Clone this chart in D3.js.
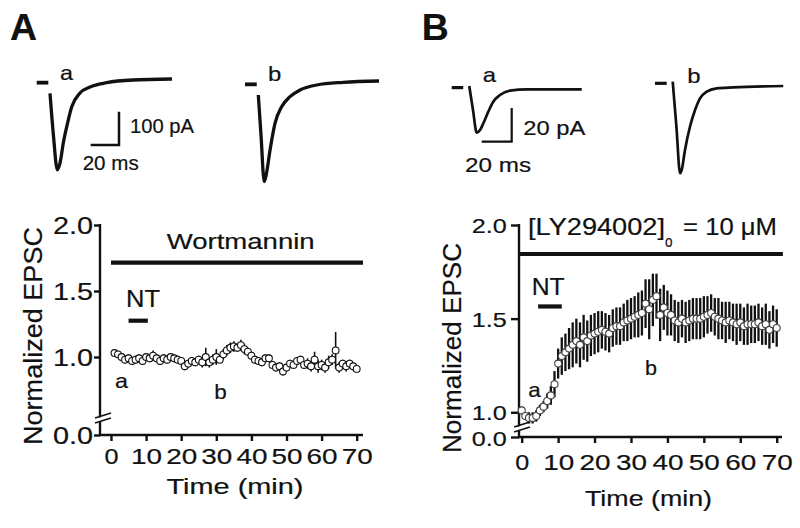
<!DOCTYPE html>
<html><head><meta charset="utf-8">
<script src="https://cdn.jsdelivr.net/npm/d3@7"></script>
<style>
body{margin:0;background:#fff}
svg{display:block}
text{font-family:"Liberation Sans",Arial,Helvetica,sans-serif;fill:#111;stroke:#111;stroke-width:0.2px}
</style>
</head><body>
<svg id="c" width="800" height="528"></svg>
<script>
// ---------------- DATA ----------------
const xTicks = [0, 10, 20, 30, 40, 50, 60, 70];
const yTicks = [0, 1, 1.5, 2];
const yTickLabels = ["0.0", "1.0", "1.5", "2.0"];

// Panel A: wortmannin time course (min, normalized EPSC, SEM)
const timeA = d3.range(1, 71);
const valuesA = [1.03,1.02,1.00,0.98,0.99,0.97,0.98,0.99,0.97,1.00,
                 0.99,1.01,0.99,0.97,0.99,0.98,1.00,0.99,0.98,0.97,
                 0.93,0.95,0.97,0.96,0.98,0.96,1.00,0.96,0.98,1.00,
                 0.98,1.02,1.05,1.07,1.08,1.07,1.09,1.06,1.04,1.01,
                 0.98,0.97,0.96,0.99,0.99,0.94,0.92,0.93,0.89,0.92,
                 0.95,0.94,0.97,0.98,0.94,0.95,0.93,0.98,0.93,0.94,
                 0.92,0.96,0.98,1.05,0.92,0.95,0.93,0.95,0.93,0.91];
const errorsA = [0.02,0.02,0.03,0.03,0.03,0.03,0.03,0.03,0.03,0.03,
                 0.03,0.04,0.03,0.03,0.03,0.03,0.03,0.03,0.03,0.03,
                 0.03,0.03,0.03,0.03,0.03,0.04,0.07,0.04,0.04,0.06,
                 0.03,0.04,0.04,0.04,0.04,0.03,0.04,0.04,0.03,0.03,
                 0.03,0.03,0.03,0.03,0.03,0.03,0.03,0.03,0.03,0.03,
                 0.03,0.03,0.03,0.03,0.03,0.04,0.04,0.06,0.05,0.04,
                 0.04,0.05,0.04,0.14,0.04,0.03,0.04,0.03,0.03,0.02];
const drugPeriodA = [0, 71.8];
const ntPeriodA = [5, 10.5];

// Panel B: LY294002 time course
const timeB = d3.range(0, 71);
const valuesB = [1.01,0.98,0.97,0.97,0.98,1.01,1.03,1.06,1.09,1.15,
                 1.26,1.30,1.32,1.34,1.36,1.38,1.36,1.40,1.38,1.41,
                 1.42,1.43,1.44,1.43,1.42,1.45,1.46,1.46,1.48,1.49,
                 1.50,1.51,1.52,1.53,1.58,1.55,1.60,1.62,1.52,1.56,
                 1.53,1.52,1.49,1.48,1.50,1.48,1.49,1.50,1.50,1.50,
                 1.51,1.52,1.53,1.51,1.50,1.49,1.48,1.49,1.48,1.47,
                 1.48,1.46,1.47,1.47,1.47,1.48,1.46,1.47,1.44,1.47,1.45];
const errorsB = [0.02,0.02,0.03,0.03,0.03,0.03,0.03,0.04,0.05,0.07,
                 0.08,0.10,0.10,0.11,0.12,0.12,0.12,0.12,0.11,0.11,
                 0.11,0.11,0.10,0.10,0.10,0.10,0.10,0.10,0.10,0.11,
                 0.11,0.11,0.12,0.12,0.13,0.16,0.14,0.12,0.14,0.12,
                 0.12,0.11,0.11,0.11,0.10,0.11,0.11,0.11,0.11,0.11,
                 0.11,0.10,0.10,0.10,0.11,0.10,0.11,0.10,0.10,0.11,
                 0.10,0.10,0.11,0.10,0.10,0.10,0.10,0.11,0.10,0.10,0.10];
const drugPeriodB = [-0.7, 71.7];
const ntPeriodB = [4.5, 11];

// EPSC traces (ms, pA)
const traceAa_t = [9.4, 11.7, 14.6, 16.5, 18.8, 21.2, 24.7, 30.6, 37.7, 49.5, 68.1, 95.6];
const traceAa_i = [-43, -163, -273, -252, -192, -144, -84, -42, -24, -11, -3, 0];
const baseAa_t = [0, 8.2], baseAa_i = [-11, -11];
const traceAb_t = [9.4, 11.3, 13.6, 15.2, 17.7, 21.2, 25.9, 31.8, 38.9, 50.7, 69.5, 94.7];
const traceAb_i = [-42, -162, -302, -277, -207, -127, -77, -47, -27, -12, -4, 0];
const baseAb_t = [0, 8.3], baseAb_i = [-10, -10];
const traceBa_t = [11.7, 14.2, 16.7, 18.9, 21.1, 24.4, 27.7, 32.2, 38.9, 50, 86.7];
const traceBa_i = [2, -12.3, -25.8, -24.2, -20.2, -13.3, -7.4, -3.4, -0.8, 0, 0];
const baseBa_t = [0, 7.7], baseBa_i = [1, 1];
const traceBb_t = [11.8, 14.3, 16.7, 17.8, 20, 23.3, 26.7, 30, 34.5, 41.1, 52.2, 85.5];
const traceBb_i = [2.6, -24.4, -51.9, -49.9, -38, -24.2, -14.3, -7.3, -3.4, -1.4, -0.8, 0];
const baseBb_t = [0, 7.8], baseBb_i = [1.6, 1.6];
const scaleBarA = [20, 100]; // ms, pA
const scaleBarB = [20, 20];

// ---------------- DRAWING ----------------
const svg = d3.select("#c");
const INK = "#111";

function T(g, str, x, y, size, len, o = {}) {
  const t = g.append("text").attr("x", x).attr("y", y).attr("font-size", size).text(str);
  if (o.bold) t.attr("font-weight", "bold");
  if (len) t.attr("textLength", len).attr("lengthAdjust", "spacingAndGlyphs");
  if (o.transform) t.attr("transform", o.transform);
  return t;
}
function seg(g, x1, y1, x2, y2, w) {
  return g.append("line").attr("x1", x1).attr("y1", y1).attr("x2", x2).attr("y2", y2)
    .attr("stroke", INK).attr("stroke-width", w);
}

function drawTrace(g, ox, oy, pxMs, pxPA, tt, ii, bt, bi, w) {
  const xs = d3.scaleLinear().domain([0, 100]).range([ox, ox + 100 * pxMs]);
  const ys = d3.scaleLinear().domain([0, -100]).range([oy, oy + 100 * pxPA]);
  const line = d3.line().x(d => xs(d[0])).y(d => ys(d[1])).curve(d3.curveMonotoneX);
  g.append("path").attr("d", line(tt.map((t, k) => [t, ii[k]])))
    .attr("fill", "none").attr("stroke", INK).attr("stroke-width", w).attr("stroke-linejoin", "round");
  g.append("path").attr("d", d3.line().x(d => xs(d[0])).y(d => ys(d[1]))(bt.map((t, k) => [t, bi[k]])))
    .attr("fill", "none").attr("stroke", INK).attr("stroke-width", w + 0.5);
  return { xs, ys };
}

function drawScaleBar(g, cx, cy, pxMs, pxPA, bar, w) {
  const xs = d3.scaleLinear().domain([0, 1]).range([0, pxMs]);
  const ys = d3.scaleLinear().domain([0, 1]).range([0, pxPA]);
  g.append("path").attr("d", `M${cx - xs(bar[0])},${cy}H${cx}V${cy - ys(bar[1])}`)
    .attr("fill", "none").attr("stroke", INK).attr("stroke-width", w);
}

function drawPanel(cfg) {
  const g = svg.append("g");
  const x = d3.scaleLinear().domain([0, 70]).range(cfg.xRange);
  const y = d3.scaleLinear().domain(cfg.yDomain).range(cfg.yRange);

  // axes lines
  seg(g, cfg.axisX, y(2) - 1, cfg.axisX, cfg.axisY, 2.4);
  seg(g, cfg.axisX - 1, cfg.axisY, cfg.xEnd, cfg.axisY, 2.4);

  // y ticks
  const ya = g.append("g").attr("transform", `translate(${cfg.axisX},0)`)
    .call(d3.axisLeft(y).tickValues(yTicks).tickSize(cfg.tickLen).tickFormat((d, i) => yTickLabels[i]));
  ya.select(".domain").remove();
  ya.selectAll(".tick line").attr("stroke", INK).attr("stroke-width", 2.4);
  ya.selectAll(".tick text").attr("fill", INK).attr("font-size", cfg.yLabSize)
    .attr("text-anchor", "start").attr("dy", null)
    .attr("x", -cfg.yLabGap - cfg.yLabLen).attr("y", (d) => cfg.yLabDy[d] !== undefined ? cfg.yLabDy[d] : 8.5)
    .attr("textLength", cfg.yLabLen).attr("lengthAdjust", "spacingAndGlyphs");

  // x ticks
  const xa = g.append("g").attr("transform", `translate(0,${cfg.axisY})`)
    .call(d3.axisBottom(x).tickValues(xTicks).tickSize(6));
  xa.select(".domain").remove();
  xa.selectAll(".tick line").attr("stroke", INK).attr("stroke-width", 2.4);
  xa.selectAll(".tick text").attr("fill", INK).attr("font-size", 22.5).attr("dy", null)
    .attr("text-anchor", "start")
    .attr("x", d => d === 0 ? -7 : -15.5)
    .attr("y", cfg.xLabDy)
    .attr("textLength", d => d === 0 ? 14 : 31).attr("lengthAdjust", "spacingAndGlyphs");

  // axis break
  const bx = cfg.axisX, by = cfg.breakY;
  g.append("path").attr("d", `M${bx - 5},${by + 3}L${bx + 11},${by - 2}L${bx + 11},${by + 2}L${bx - 5},${by + 7}Z`)
    .attr("fill", "#fff");
  seg(g, bx - 5, by + 2, bx + 11, by - 3, 1.8);
  seg(g, bx - 5, by + 7, bx + 11, by + 2, 1.8);

  // drug bar & NT bar
  seg(g, x(cfg.drug[0]), cfg.drugY, x(cfg.drug[1]), cfg.drugY, 4.2);
  seg(g, x(cfg.nt[0]), y(cfg.ntV), x(cfg.nt[1]), y(cfg.ntV), 4.2);

  // error bars
  g.append("g").selectAll("line").data(cfg.time).join("line")
    .attr("x1", (d) => x(d)).attr("x2", (d) => x(d))
    .attr("y1", (d, i) => y(cfg.vals[i] - cfg.errs[i]))
    .attr("y2", (d, i) => y(cfg.vals[i] + cfg.errs[i]))
    .attr("stroke", INK).attr("stroke-width", cfg.errW);
  // points
  g.append("g").selectAll("circle").data(cfg.time).join("circle")
    .attr("cx", (d) => x(d)).attr("cy", (d, i) => y(cfg.vals[i]))
    .attr("r", cfg.r).attr("fill", "#fff").attr("stroke", cfg.ptStroke).attr("stroke-width", 1.1);
  return { g, x, y };
}

// ---------- Panel A ----------
const gA = svg.append("g");
T(gA, "A", 10, 40, 36, 27, { bold: true });
drawTrace(gA, 36.7, 79, 1.415, 0.333, traceAa_t, traceAa_i, baseAa_t, baseAa_i, 3.3);
drawTrace(gA, 245, 81, 1.415, 0.333, traceAb_t, traceAb_i, baseAb_t, baseAb_i, 3.3);
drawScaleBar(gA, 119, 145, 1.415, 0.333, scaleBarA, 2.5);
T(gA, "a", 60, 80, 21, 13);
T(gA, "b", 268, 80.7, 21, 13.3);
T(gA, "100 pA", 130, 133.3, 20, 64);
T(gA, "20 ms", 82.7, 170, 20, 56);

const pA = drawPanel({
  xRange: [111, 356.7], yDomain: [0, 0.75, 2], yRange: [435, 390, 225],
  axisX: 100, axisY: 435, xEnd: 363, tickLen: 6, yLabGap: 7, yLabLen: 40, yLabSize: 23.5,
  yLabDy: {}, xLabDy: 28.5, breakY: 416,
  drug: drugPeriodA, drugY: 262.7, nt: ntPeriodA, ntV: 1.275,
  time: timeA, vals: valuesA, errs: errorsA, r: 3.4, errW: 1.6, ptStroke: INK
});
T(gA, "Wortmannin", 166.7, 248.5, 22, 148);
T(gA, "NT", 126, 307.3, 23.5, 34);
T(gA, "a", 115, 388.3, 21, 13);
T(gA, "b", 214.3, 399.3, 21, 12.5);
T(gA, "Time (min)", 166.5, 493.5, 22, 137);
T(gA, "Normalized EPSC", -109, 0, 26, 218, { transform: "translate(42,336) rotate(-90)" });

// ---------- Panel B ----------
const gB = svg.append("g");
T(gB, "B", 421.7, 40, 37, 27, { bold: true });
drawTrace(gB, 451.7, 89.3, 1.5, 1.683, traceBa_t, traceBa_i, baseBa_t, baseBa_i, 2.7);
drawTrace(gB, 655, 86, 1.5, 1.683, traceBb_t, traceBb_i, baseBb_t, baseBb_i, 2.7);
drawScaleBar(gB, 511.7, 141.7, 1.5, 1.683, scaleBarB, 2.2);
T(gB, "a", 482.7, 81.7, 21, 13.3);
T(gB, "b", 687.3, 82.7, 21, 13.3);
T(gB, "20 pA", 523.3, 135, 21, 62);
T(gB, "20 ms", 465, 171.7, 21, 66);

const pB = drawPanel({
  xRange: [521.7, 776.7], yDomain: [0, 0.9, 2], yRange: [437, 431, 225],
  axisX: 519, axisY: 437, xEnd: 782, tickLen: 8, yLabGap: 12.3, yLabLen: 35, yLabSize: 21,
  yLabDy: { 2: 7.5, 1.5: 8, 1: 7.7, 0: 8 }, xLabDy: 33, breakY: 425,
  drug: drugPeriodB, drugY: 254, nt: ntPeriodB, ntV: 1.565,
  time: timeB, vals: valuesB, errs: errorsB, r: 3.5, errW: 2.3, ptStroke: "#444"
});
T(gB, "[LY294002]", 528, 235, 24, 137);
T(gB, "o", 665, 246.7, 16, 7.5);
T(gB, "= 10 \u03bcM", 683, 235, 24, 94);
T(gB, "NT", 531.7, 295, 24, 33);
T(gB, "a", 528.3, 396.7, 21, 12.5);
T(gB, "b", 645, 375, 21, 12);
T(gB, "Time (min)", 585, 505.5, 22, 127);
T(gB, "Normalized EPSC", -105, 0, 26, 210, { transform: "translate(461,348) rotate(-90)" });
</script>
</body></html>
